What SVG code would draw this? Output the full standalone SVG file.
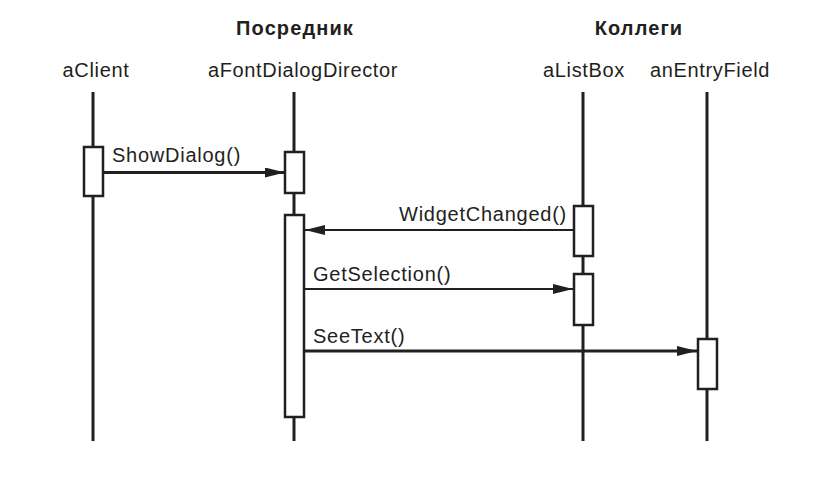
<svg xmlns="http://www.w3.org/2000/svg" width="815" height="483" viewBox="0 0 815 483">
<style>
text{font-family:"Liberation Sans",Arial,sans-serif;fill:#231f20}
.h{font-size:20px;font-weight:bold;text-anchor:middle;letter-spacing:1.1px}
.n{font-size:20px;text-anchor:middle;letter-spacing:0.65px}
.m{font-size:20px;letter-spacing:0.75px}
.life{stroke:#231f20;stroke-width:3;fill:none}
.act{fill:#fff;stroke:#231f20;stroke-width:2.5}
.msg{stroke:#231f20;stroke-width:3;fill:none}
.msg2{stroke:#231f20;stroke-width:2.2;fill:none}
</style>
<defs>
<marker id="ah" viewBox="0 0 20 10" refX="20" refY="5" markerWidth="20" markerHeight="10" markerUnits="userSpaceOnUse" orient="auto">
<path d="M0,0 L20,5 L0,10 Z" fill="#231f20"/>
</marker>
</defs>
<text class="h" x="295" y="35">Посредник</text>
<text class="h" x="639" y="35">Коллеги</text>
<g id="aClient">
<text class="n" x="96" y="77">aClient</text>
<line class="life" x1="93" y1="92" x2="93" y2="441"/>
<rect class="act" x="84" y="147" width="19" height="49"/>
</g>
<g id="aFontDialogDirector">
<text class="n" x="303" y="77">aFontDialogDirector</text>
<line class="life" x1="294" y1="92" x2="294" y2="441"/>
<rect class="act" x="285" y="152" width="19" height="41"/>
<rect class="act" x="285" y="215" width="19" height="202"/>
</g>
<g id="aListBox">
<text class="n" x="584" y="77">aListBox</text>
<line class="life" x1="583" y1="92" x2="583" y2="441"/>
<rect class="act" x="574" y="206" width="19" height="50"/>
<rect class="act" x="574" y="274" width="19" height="51"/>
</g>
<g id="anEntryField">
<text class="n" x="710" y="77">anEntryField</text>
<line class="life" x1="707" y1="92" x2="707" y2="441"/>
<rect class="act" x="698" y="339" width="19" height="50"/>
</g>
<g id="connectors">
<line class="msg" x1="104" y1="172.5" x2="285" y2="172.5" marker-end="url(#ah)"/>
<text class="m" x="112" y="162">ShowDialog()</text>
<line class="msg2" x1="573" y1="230" x2="305" y2="230" marker-end="url(#ah)"/>
<text class="m" x="567" y="221" text-anchor="end">WidgetChanged()</text>
<line class="msg2" x1="305" y1="289" x2="573" y2="289" marker-end="url(#ah)"/>
<text class="m" x="313" y="281">GetSelection()</text>
<line class="msg" x1="305" y1="351" x2="697" y2="351" marker-end="url(#ah)"/>
<text class="m" x="313" y="343">SeeText()</text>
</g>
</svg>
